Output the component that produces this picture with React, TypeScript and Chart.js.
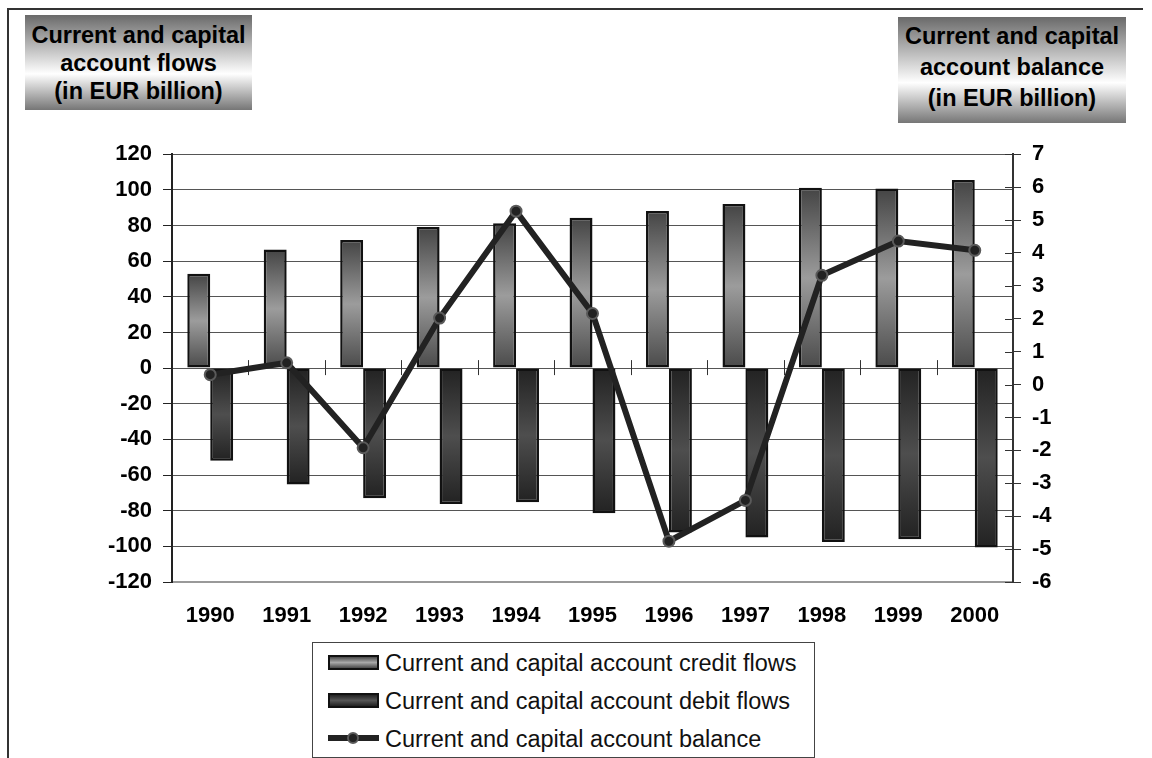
import React, { useEffect, useRef } from "react";
import { Chart, registerables } from "chart.js";

Chart.register(...registerables);

const years = ["1990", "1991", "1992", "1993", "1994", "1995", "1996", "1997", "1998", "1999", "2000"];
const creditFlows = [53, 66.5, 71.8, 79.2, 81.3, 84.4, 88.2, 92.0, 101.2, 100.8, 105.5];
const debitFlows = [-52, -65.3, -73, -76.3, -75.2, -81.5, -92.3, -95.1, -97.5, -96, -100.7];
const balance = [0.3, 0.66, -1.92, 2.02, 5.27, 2.16, -4.76, -3.52, 3.32, 4.36, 4.08];

const leftMin = -120;
const leftMax = 120;
const leftStep = 20;
const rightMin = -6;
const rightMax = 7;
const rightStep = 1;

const legendLabels = [
  "Current and capital account credit flows",
  "Current and capital account debit flows",
  "Current and capital account balance",
];
const leftTitle = ["Current and capital", "account flows", "(in EUR billion)"];
const rightTitle = ["Current and capital", "account balance", "(in EUR billion)"];

const FONT = "'Liberation Sans', Arial, Helvetica, sans-serif";

function barGradient(stops: [number, string][]) {
  return (ctx: any) => {
    const chart = ctx.chart;
    const area = chart.chartArea;
    const ys = chart.scales && chart.scales.y;
    if (!area || !ys || ctx.type !== "data") return stops[1][1];
    const v = ctx.raw as number;
    const p0 = ys.getPixelForValue(0);
    const p1 = ys.getPixelForValue(v);
    if (!isFinite(p0) || !isFinite(p1) || Math.abs(p0 - p1) < 1) return stops[1][1];
    const g = chart.ctx.createLinearGradient(0, Math.min(p0, p1), 0, Math.max(p0, p1));
    stops.forEach(([o, c]) => g.addColorStop(o, c));
    return g;
  };
}

const axisMarks = {
  id: "axisMarks",
  beforeDatasetsDraw(chart: any) {
    const { ctx, scales } = chart;
    const x = scales.x;
    const y = scales.y;
    const y1 = scales.y1;
    const zero = y.getPixelForValue(0);
    ctx.save();
    ctx.strokeStyle = "#333";
    ctx.lineWidth = 1;
    for (let i = 0; i < years.length - 1; i++) {
      const bx = Math.round((x.getPixelForValue(i) + x.getPixelForValue(i + 1)) / 2) + 0.5;
      ctx.beginPath();
      ctx.moveTo(bx, zero - 8);
      ctx.lineTo(bx, zero + 7);
      ctx.stroke();
    }
    const rx = y1.left;
    y1.ticks.forEach((t: any) => {
      const py = Math.round(y1.getPixelForValue(t.value)) + 0.5;
      ctx.beginPath();
      ctx.moveTo(rx - 8, py);
      ctx.lineTo(rx, py);
      ctx.stroke();
    });
    ctx.restore();
  },
};

function TitleBox(props: {
  lines: string[];
  left: number;
  top: number;
  width: number;
  height: number;
  lineHeight: number;
  shift: number;
}) {
  return (
    <div
      style={{
        position: "absolute",
        left: props.left,
        top: props.top,
        width: props.width,
        height: props.height,
        boxSizing: "border-box",
        paddingBottom: props.shift,
        background: "linear-gradient(to bottom, #6a6a6a 0%, #ffffff 62%, #767676 100%)",
        fontFamily: FONT,
        fontWeight: "bold",
        fontSize: 23.5,
        lineHeight: props.lineHeight + "px",
        color: "#000",
        textAlign: "center",
        display: "flex",
        flexDirection: "column",
        justifyContent: "center",
        alignItems: "center",
        whiteSpace: "nowrap",
      }}
    >
      {props.lines.map((l) => (
        <div key={l}>{l}</div>
      ))}
    </div>
  );
}

export default function App() {
  const canvasRef = useRef<HTMLCanvasElement | null>(null);

  useEffect(() => {
    const canvas = canvasRef.current;
    if (!canvas) return;
    const tickFont = { family: FONT, size: 22, weight: "bold" };
    const chart = new Chart(canvas, {
      type: "bar",
      data: {
        labels: years,
        datasets: [
          {
            type: "line",
            label: legendLabels[2],
            data: balance,
            yAxisID: "y1",
            borderColor: "#222",
            borderWidth: 6,
            pointRadius: 5.5,
            pointBorderWidth: 2,
            pointBorderColor: "#5a5a5a",
            pointBackgroundColor: "#222",
            tension: 0,
            order: 0,
          } as any,
          {
            type: "bar",
            label: legendLabels[0],
            data: creditFlows,
            yAxisID: "y",
            backgroundColor: barGradient([
              [0, "#444"],
              [0.5, "#9c9c9c"],
              [1, "#4a4a4a"],
            ]),
            borderColor: "#111",
            borderWidth: 2.5,
            borderSkipped: false,
            categoryPercentage: 0.6,
            barPercentage: 1.0,
            order: 1,
          } as any,
          {
            type: "bar",
            label: legendLabels[1],
            data: debitFlows,
            yAxisID: "y",
            backgroundColor: barGradient([
              [0, "#222"],
              [0.5, "#4e4e4e"],
              [1, "#222"],
            ]),
            borderColor: "#111",
            borderWidth: 2.5,
            borderSkipped: false,
            categoryPercentage: 0.6,
            barPercentage: 1.0,
            order: 1,
          } as any,
        ],
      },
      options: {
        responsive: false,
        animation: false,
        devicePixelRatio: 1,
        layout: { padding: { top: 23, left: 0, right: 0, bottom: 0 } },
        plugins: {
          legend: { display: false },
          tooltip: { enabled: false },
          title: { display: false },
        },
        scales: {
          x: {
            type: "category",
            grid: { display: false, drawTicks: false },
            border: { display: true, color: "#999", width: 2 },
            ticks: {
              padding: 21,
              color: "#000",
              font: tickFont,
              maxRotation: 0,
              autoSkip: false,
            },
            afterFit: (s: any) => {
              s.height = 50;
            },
          },
          y: {
            type: "linear",
            position: "left",
            min: leftMin,
            max: leftMax,
            grid: { color: "#555", lineWidth: 1, tickLength: 9, tickColor: "#222" },
            border: { display: true, color: "#222", width: 2 },
            ticks: {
              stepSize: leftStep,
              padding: 11,
              color: "#000",
              font: tickFont,
            },
            afterFit: (s: any) => {
              s.width = 172;
            },
          },
          y1: {
            type: "linear",
            position: "right",
            min: rightMin,
            max: rightMax,
            grid: { drawOnChartArea: false, tickLength: 8, color: "#333" },
            border: { display: true, color: "#333", width: 2 },
            ticks: {
              stepSize: rightStep,
              padding: 11,
              color: "#000",
              font: tickFont,
            },
            afterFit: (s: any) => {
              s.width = 139;
            },
          },
        },
      } as any,
      plugins: [axisMarks],
    });
    return () => chart.destroy();
  }, []);

  const swatchBase: React.CSSProperties = {
    position: "absolute",
    left: 15,
    width: 51,
    height: 15,
    boxSizing: "border-box",
    border: "2px solid #111",
  };

  return (
    <div
      style={{
        position: "fixed",
        left: 0,
        top: 0,
        width: 1152,
        height: 758,
        background: "#fff",
        overflow: "hidden",
      }}
    >
      <div
        style={{
          position: "absolute",
          left: 7,
          top: 8,
          width: 1134,
          height: 760,
          borderTop: "2px solid #333",
          borderLeft: "2px solid #333",
        }}
      />
      <TitleBox lines={leftTitle} left={25} top={15} width={227} height={95} lineHeight={28} shift={0} />
      <TitleBox lines={rightTitle} left={898} top={17} width={228} height={106} lineHeight={31} shift={6} />
      <canvas
        ref={canvasRef}
        width={1152}
        height={502}
        style={{ position: "absolute", left: 0, top: 130, width: 1152, height: 502 }}
      />
      <div
        style={{
          position: "absolute",
          left: 312,
          top: 642,
          width: 503,
          height: 116,
          boxSizing: "border-box",
          border: "1px solid #444",
          background: "#fff",
          fontFamily: FONT,
          fontSize: 23.5,
          color: "#111",
        }}
      >
        <div style={{ ...swatchBase, top: 12, background: "linear-gradient(to bottom, #4a4a4a, #a8a8a8 50%, #4a4a4a)" }} />
        <div style={{ ...swatchBase, top: 50, background: "linear-gradient(to bottom, #222, #555 50%, #222)" }} />
        <div style={{ position: "absolute", left: 15, top: 92, width: 51, height: 6, background: "#222" }} />
        <div
          style={{
            position: "absolute",
            left: 34,
            top: 89,
            width: 12,
            height: 12,
            boxSizing: "border-box",
            borderRadius: "50%",
            border: "2px solid #5a5a5a",
            background: "#222",
          }}
        />
        {legendLabels.map((l, i) => (
          <div
            key={l}
            style={{
              position: "absolute",
              left: 72,
              top: 20 + i * 38 - 14,
              height: 28,
              lineHeight: "28px",
              whiteSpace: "nowrap",
            }}
          >
            {l}
          </div>
        ))}
      </div>
    </div>
  );
}
